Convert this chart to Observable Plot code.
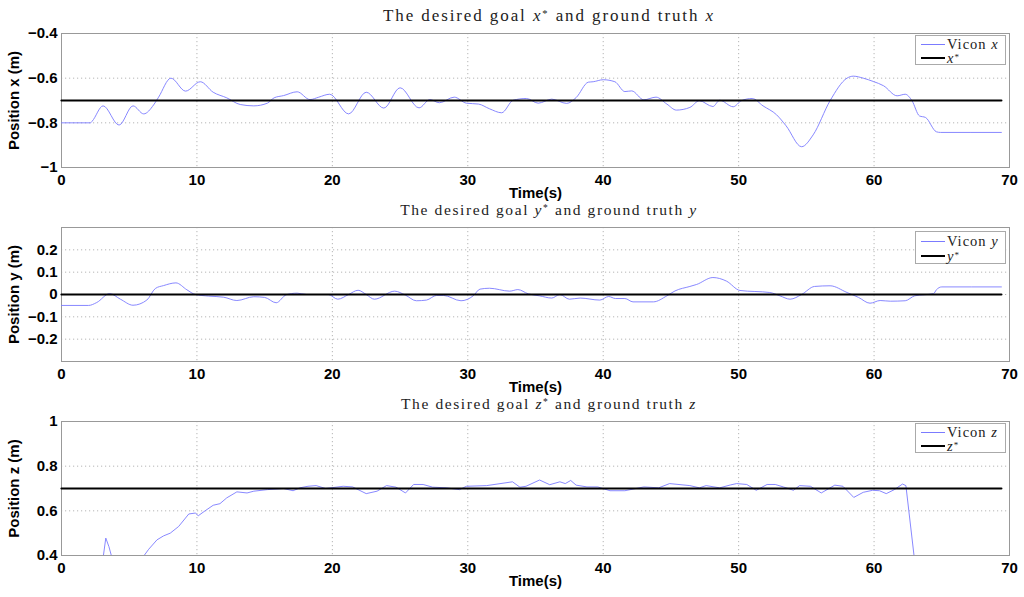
<!DOCTYPE html>
<html><head><meta charset="utf-8">
<script src="https://cdn.jsdelivr.net/npm/d3@7"></script>
<script src="https://cdn.jsdelivr.net/npm/@observablehq/plot@0.6"></script>
<style>
body{margin:0;background:#fff;}
#wrap{position:relative;width:1024px;height:597px;overflow:hidden;background:#fff;}
.panel{position:absolute;left:0;}
.title{position:absolute;font-family:"Liberation Serif",serif;white-space:nowrap;transform:translate(-50%,-50%);color:#222;z-index:2;line-height:1;}
.legend{position:absolute;border:1px solid #aaa;background:#fff;font-family:"Liberation Serif",serif;font-size:14.5px;color:#222;z-index:3;}
.row{position:absolute;left:0;white-space:nowrap;letter-spacing:1px;}
.swatch{position:absolute;left:5px;width:24px;height:0;}
.lab{position:absolute;left:31px;top:-5px;line-height:10px;}
.sup{font-size:0.62em;position:relative;top:-0.38em;}
</style>
</head><body>
<div id="wrap"></div>
<script>
// ---------- data ----------
const timeTicks = [0, 10, 20, 30, 40, 50, 60, 70];
const goalT = [0, 69.4];

const tX = [0, 2.14, 2.26, 3.07, 4.25, 5.28, 6.07, 6.8, 7.17, 8.08, 9.16, 10.25, 11.2, 12.2, 13.2, 14.2, 15.2, 15.7, 16.4, 17.4, 18.35, 19.0, 19.8, 21.2, 22.5, 23.8, 25.0, 26.4, 27.2, 27.9, 29.0, 29.9, 30.8, 31.6, 32.5, 33.35, 34.33, 35.2, 36.2, 37.3, 38.0, 38.9, 39.26, 40.0, 40.86, 41.6, 42.1, 43.0, 43.9, 44.7, 45.4, 46.4, 47.1, 48.1, 48.6, 49.6, 50.2, 51.0, 51.8, 52.8, 53.5, 54.65, 55.5, 56.75, 58.0, 58.47, 59.2, 59.95, 60.7, 61.7, 62.3, 62.8, 63.35, 63.8, 64.6, 64.9, 69.4];
const valX = [-0.8, -0.8, -0.793, -0.724, -0.81, -0.724, -0.76, -0.72, -0.685, -0.6, -0.658, -0.616, -0.663, -0.688, -0.718, -0.724, -0.712, -0.688, -0.678, -0.661, -0.696, -0.685, -0.672, -0.76, -0.663, -0.734, -0.643, -0.733, -0.696, -0.71, -0.685, -0.712, -0.716, -0.737, -0.755, -0.699, -0.691, -0.712, -0.694, -0.713, -0.687, -0.618, -0.616, -0.607, -0.616, -0.66, -0.657, -0.697, -0.685, -0.716, -0.743, -0.731, -0.701, -0.727, -0.699, -0.728, -0.701, -0.691, -0.724, -0.764, -0.813, -0.907, -0.854, -0.701, -0.6, -0.591, -0.6, -0.615, -0.634, -0.679, -0.672, -0.701, -0.769, -0.776, -0.84, -0.843, -0.843];
const goalX = -0.7;

const tY = [0, 2.0, 2.6, 3.56, 4.35, 5.28, 6.3, 6.93, 7.54, 8.45, 9.26, 9.88, 10.86, 11.97, 12.95, 14.2, 15.0, 15.85, 16.6, 17.4, 18.1, 19.7, 20.4, 21.2, 21.9, 22.5, 23.1, 24.6, 25.4, 26.2, 26.95, 27.7, 28.2, 29.5, 30.4, 30.9, 31.6, 33.1, 33.7, 34.46, 35.3, 36.2, 36.8, 37.5, 38.3, 39.75, 40.4, 40.9, 41.6, 42.2, 43.7, 44.7, 45.3, 46.4, 46.9, 48.1, 49.1, 50.1, 52.3, 53.05, 53.8, 54.65, 55.6, 56.75, 58.0, 58.85, 59.7, 60.45, 61.2, 62.3, 63.0, 64.4, 64.6, 65.0, 69.4];
const valY = [-0.049, -0.049, -0.036, 0.004, -0.021, -0.048, -0.025, 0.027, 0.04, 0.052, 0.021, 0, -0.007, -0.012, -0.027, -0.01, -0.013, -0.037, -0.001, 0.006, 0, 0, -0.021, 0, 0.019, 0, -0.021, 0.015, -0.003, -0.028, -0.025, -0.004, -0.004, -0.028, -0.006, 0.024, 0.028, 0.015, 0.022, 0.003, -0.006, -0.016, 0, -0.021, -0.016, -0.025, -0.009, -0.018, -0.018, -0.033, -0.033, -0.006, 0.016, 0.036, 0.045, 0.076, 0.06, 0.018, 0.009, -0.006, -0.021, 0, 0.036, 0.039, 0.009, -0.013, -0.039, -0.027, -0.03, -0.028, -0.006, 0.004, 0.021, 0.034, 0.034];
const goalY = 0;

const tZ = [0, 2.95, 3.05, 3.27, 3.5, 3.86, 5.0, 6.1, 6.44, 7.05, 7.54, 8.03, 8.65, 9.4, 9.88, 10.1, 10.6, 11.2, 11.7, 12.2, 12.95, 13.7, 14.2, 15.2, 16.4, 17.1, 17.6, 18.2, 18.8, 19.5, 20.8, 21.5, 22.5, 23.3, 24.0, 24.7, 25.4, 26.0, 26.7, 27.4, 28.4, 29.4, 29.9, 31.4, 33.3, 33.85, 34.3, 35.3, 36.05, 36.8, 37.2, 37.6, 38.0, 38.8, 39.6, 40.5, 41.6, 43.0, 44.1, 44.9, 46.4, 47.1, 47.6, 48.6, 49.4, 49.85, 50.6, 51.3, 52.1, 52.7, 53.3, 54.05, 54.5, 55.3, 56.1, 57.1, 57.7, 58.5, 59.2, 59.9, 60.4, 60.9, 61.5, 62.1, 62.35, 62.95, 63.6];
const valZ = [0, 0, 0.38, 0.478, 0.44, 0.36, 0.3, 0.4, 0.428, 0.47, 0.488, 0.5, 0.53, 0.586, 0.59, 0.578, 0.6, 0.625, 0.632, 0.658, 0.685, 0.68, 0.688, 0.695, 0.7, 0.69, 0.703, 0.71, 0.713, 0.7, 0.71, 0.707, 0.677, 0.688, 0.713, 0.706, 0.68, 0.718, 0.718, 0.706, 0.703, 0.695, 0.71, 0.713, 0.73, 0.706, 0.71, 0.738, 0.717, 0.73, 0.722, 0.736, 0.715, 0.707, 0.707, 0.69, 0.69, 0.707, 0.703, 0.722, 0.713, 0.703, 0.713, 0.703, 0.716, 0.722, 0.718, 0.692, 0.718, 0.718, 0.707, 0.692, 0.713, 0.71, 0.68, 0.715, 0.71, 0.66, 0.683, 0.692, 0.69, 0.677, 0.695, 0.72, 0.713, 0.4, 0];
const goalZ = 0.7;

const ticksX = [-1, -0.8, -0.6, -0.4];
const ticksY = [-0.2, -0.1, 0, 0.1, 0.2];
const ticksZ = [0.4, 0.6, 0.8, 1];

// ---------- drawing ----------
const fmt = d => d < 0 ? "\u2212" + String(-d) : String(d);
const wrap = document.getElementById("wrap");

function panel(cfg) {
  const data = cfg.t.map((t, i) => ({t, v: cfg.v[i]}));
  const goal = goalT.map(t => ({t, v: cfg.goal}));
  const svg = Plot.plot({
    width: 1024, height: cfg.height,
    marginLeft: 61, marginRight: 15, marginTop: 33, marginBottom: cfg.mb,
    style: {fontFamily: "'Liberation Sans', Arial, sans-serif", fontWeight: "bold", fontSize: "15px", background: "transparent", color: "#000", overflow: "visible"},
    x: {domain: [0, 70]},
    y: {domain: cfg.domain},
    marks: [
      Plot.gridX(timeTicks, {stroke: "#b5b5b5", strokeOpacity: 1, strokeDasharray: "1.2,2.8"}),
      Plot.gridY(cfg.ticks, {stroke: "#b5b5b5", strokeOpacity: 1, strokeDasharray: "1.2,2.8"}),
      Plot.frame({stroke: "#999"}),
      Plot.line(data, {x: "t", y: "v", stroke: "#7b7bff", strokeWidth: 0.9, curve: cfg.curve, clip: true}),
      Plot.line(goal, {x: "t", y: "v", stroke: "#000", strokeWidth: 2.2}),
      Plot.axisX(timeTicks, {tickSize: 0, tickPadding: 7, tickFormat: d => String(d), label: "Time(s)", labelAnchor: "center", labelOffset: 30, labelArrow: "none"}),
      Plot.axisY(cfg.ticks, {tickSize: 0, tickPadding: 4, tickFormat: fmt, label: cfg.label, labelAnchor: "center", labelOffset: 53, labelArrow: "none"})
    ]
  });
  svg.classList.add("panel");
  svg.style.top = cfg.top + "px";
  wrap.appendChild(svg);

  const title = document.createElement("div");
  title.className = "title";
  title.style.left = "549px";
  title.style.top = cfg.titleY + "px";
  title.style.fontSize = cfg.titleSize + "px";
  title.style.letterSpacing = cfg.titleLS + "px";
  title.innerHTML = `The desired goal <i>${cfg.sym}</i><span class="sup">*</span> and ground truth <i>${cfg.sym}</i>`;
  wrap.appendChild(title);

  const lg = document.createElement("div");
  lg.className = "legend";
  lg.style.left = "915px";
  lg.style.top = cfg.legTop + "px";
  lg.style.width = "89px";
  lg.style.height = cfg.legH + "px";
  const r1 = cfg.legRows[0], r2 = cfg.legRows[1];
  lg.innerHTML =
    `<div class="row" style="top:${r1}px"><div class="swatch" style="border-top:1px solid #7b7bff"></div><div class="lab">Vicon <i>${cfg.sym}</i></div></div>` +
    `<div class="row" style="top:${r2}px"><div class="swatch" style="border-top:2.2px solid #000;margin-top:-1px"></div><div class="lab"><i>${cfg.sym}</i><span class="sup">*</span></div></div>`;
  wrap.appendChild(lg);
}

panel({t: tX, v: valX, goal: goalX, domain: [-1, -0.4], ticks: ticksX, label: "Position x (m)", sym: "x",
  top: 0, height: 200, mb: 33, curve: "monotone-x", titleY: 15, titleSize: 17, titleLS: 1.9, legTop: 35, legH: 28, legRows: [8, 22]});
panel({t: tY, v: valY, goal: goalY, domain: [-0.3, 0.3], ticks: ticksY, label: "Position y (m)", sym: "y",
  top: 194, height: 200, mb: 33, curve: "monotone-x", titleY: 210, titleSize: 15.5, titleLS: 1.6, legTop: 231, legH: 31, legRows: [9, 24]});
panel({t: tZ, v: valZ, goal: goalZ, domain: [0.4, 1], ticks: ticksZ, label: "Position z (m)", sym: "z",
  top: 388, height: 209, mb: 42, curve: "linear", titleY: 404, titleSize: 15.5, titleLS: 1.6, legTop: 423, legH: 28, legRows: [8, 22]});
</script>
</body></html>
